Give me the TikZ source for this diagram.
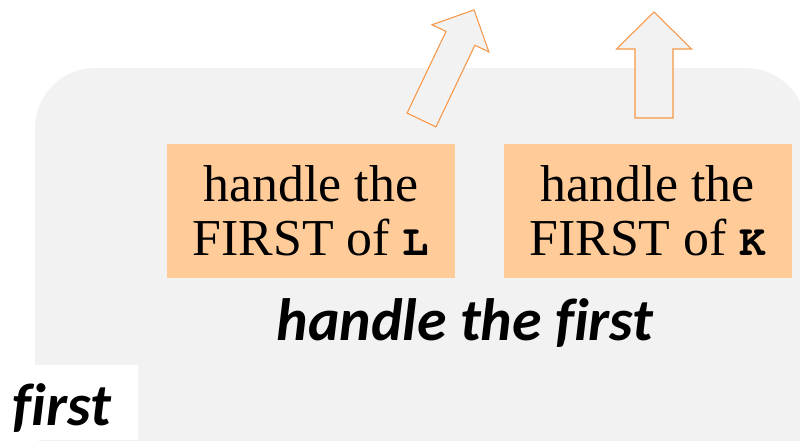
\documentclass[tikz,border=0pt]{standalone}
\usepackage{fontspec}
\setmainfont{Liberation Serif}
\newfontfamily\calibrifont[Ligatures=NoCommon]{Carlito}
\newfontfamily\codefont{TeX Gyre Cursor}
\usetikzlibrary{positioning}

\definecolor{panelgray}{HTML}{F2F2F2}
\definecolor{peach}{HTML}{FFCC99}
\definecolor{arrowline}{HTML}{F79646}

\begin{document}
\begin{tikzpicture}[
    x=0.02cm, y=-0.02cm,
    task/.style={fill=peach, minimum width=5.76cm, minimum height=2.68cm, align=center,
        font=\fontsize{29.5}{31}\selectfont, inner sep=0pt},
    heading/.style={font=\calibrifont\bfseries\itshape\fontsize{34}{38}\selectfont, inner sep=0pt},
    blockarr/.style={draw=arrowline, fill=panelgray, line width=0.6pt, line join=miter},
]
    \clip (0,0) rectangle (800,440);

    % Background panel, with the corner cut out for the label
    \fill[panelgray, rounded corners=1.2cm] (35,68) rectangle (806,480);
    \fill[white] (0,365) rectangle (138,440);

    % Block arrows leaving the panel
    \begin{scope}[shift={(421.5,120)}, rotate=-25.5]
        \draw[blockarr] (-16,0) -- (16,0) -- (16,-90.5) -- (31.5,-90.5) -- (0,-122)
            -- (-31.5,-90.5) -- (-16,-90.5) -- cycle;
    \end{scope}
    \begin{scope}[shift={(654,118)}]
        \draw[blockarr] (-19,0) -- (19,0) -- (19,-69) -- (37.5,-69) -- (0,-106)
            -- (-37.5,-69) -- (-19,-69) -- cycle;
    \end{scope}

    % Sub-tasks
    \node[task] (firstL) at (311,211)
        {handle the\\FIRST of {\codefont\bfseries\fontsize{25}{30}\selectfont L}};
    \node[task, right=0.96cm of firstL] (firstK)
        {handle the\\FIRST of {\codefont\bfseries\fontsize{25}{30}\selectfont K}};

    % Labels
    \node[heading, anchor=base] (handle) at (465,340) {handle the first};
    \node[heading, anchor=base] (fname) at (62,425) {first};
\end{tikzpicture}
\end{document}
